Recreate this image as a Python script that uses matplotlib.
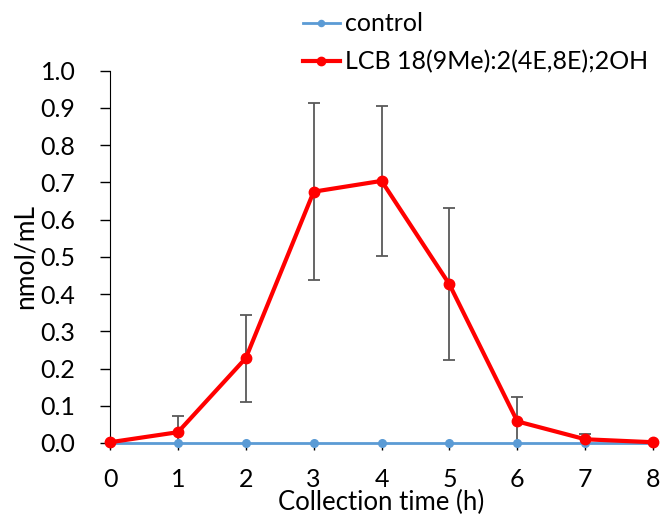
import matplotlib
matplotlib.use("Agg")
import matplotlib.pyplot as plt

plt.rcParams['font.family'] = ['Lato', 'DejaVu Sans']

# Collection times (h)
hours = [0, 1, 2, 3, 4, 5, 6, 7, 8]
# Mean concentrations (nmol/mL)
control = [0, 0, 0, 0, 0, 0, 0, 0, 0]
lcb = [0.002, 0.029, 0.228, 0.675, 0.704, 0.426, 0.058, 0.010, 0.002]
# Error bar half-widths
lcb_err = [0.0, 0.043, 0.117, 0.238, 0.202, 0.204, 0.065, 0.014, 0.0]

label_control = "control"
label_lcb = "LCB 18(9Me):2(4E,8E);2OH"
xlabel = "Collection time (h)"
ylabel = "nmol/mL"
yticks = [0.0, 0.1, 0.2, 0.3, 0.4, 0.5, 0.6, 0.7, 0.8, 0.9, 1.0]

fig = plt.figure(figsize=(6.63, 5.16), dpi=100)
ax = fig.add_axes([0.166, 0.1415, 0.819, 0.7215])

l1, = ax.plot(hours, control, color='#5B9BD5', lw=2, marker='o', ms=5.5,
              zorder=3, clip_on=False)
ax.errorbar(hours, lcb, yerr=lcb_err, fmt='none', ecolor='#595959',
            elinewidth=1.3, capsize=4, capthick=1.3, zorder=2)
l2, = ax.plot(hours, lcb, color='#FF0000', lw=3, marker='o', ms=7.5,
              zorder=4, clip_on=False)

ax.set_xlim(0, 8)
ax.set_ylim(0, 1.0)
ax.set_xticks(hours)
ax.set_yticks(yticks)
ax.set_yticklabels([f"{v:.1f}" for v in yticks])
ax.tick_params(axis='both', labelsize=18, colors='black', width=1)
ax.tick_params(axis='x', length=5, pad=13)
ax.tick_params(axis='y', length=7, pad=18)
for s in ['top', 'right']:
    ax.spines[s].set_visible(False)
ax.spines['left'].set_color('black')
ax.spines['bottom'].set_color('#808080')

ax.set_xlabel(xlabel, fontsize=18.5, labelpad=-1)
ax.set_ylabel(ylabel, fontsize=19, labelpad=2)

fig.legend([l1, l2], [label_control, label_lcb], loc='upper left',
           bbox_to_anchor=(0.43, 1.01), frameon=False, fontsize=18,
           handlelength=1.5, handletextpad=0.2, labelspacing=0.6,
           borderpad=0.2, markerscale=0.8)

fig.savefig("out.png", dpi=100)
